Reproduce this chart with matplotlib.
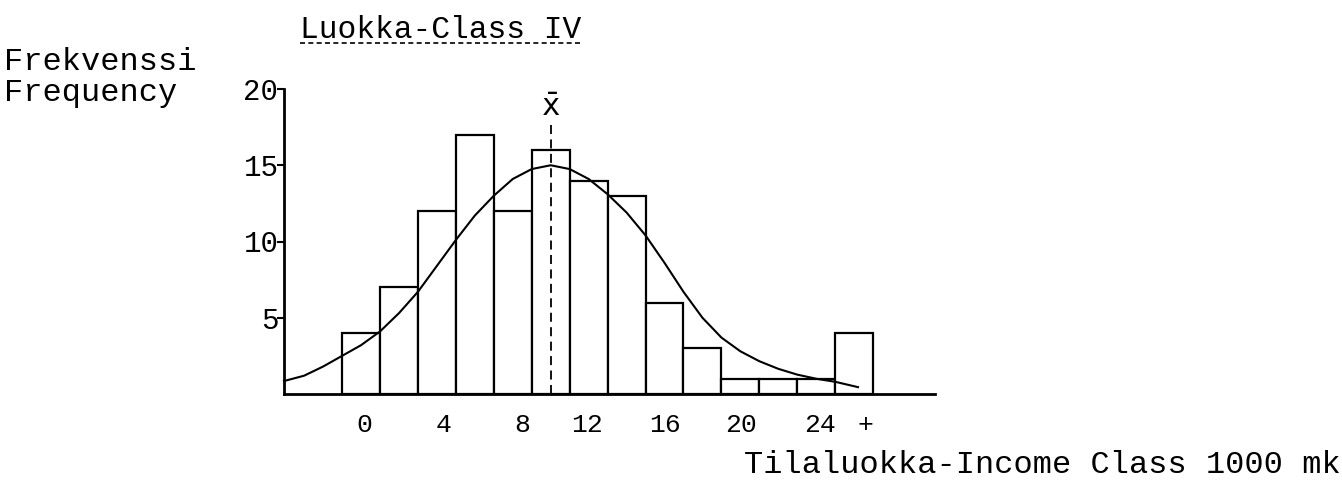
import matplotlib
matplotlib.use('Agg')
import matplotlib.pyplot as plt
import numpy as np

plt.rcParams['font.family'] = ['Liberation Mono', 'DejaVu Sans Mono']

# frequencies per income class (bars, left to right)
freq = [4, 7, 12, 17, 12, 16, 14, 13, 6, 3, 1, 1, 1, 4]

# fitted curve (x in class-width units from first bar)
curve_x = [-1.53, -1.0, -0.5, 0.0, 0.5, 1.0, 1.5, 2.0, 2.5, 3.0, 3.5, 4.0, 4.5, 5.0,
           5.5, 6.0, 6.5, 7.0, 7.5, 8.0, 8.5, 9.0, 9.5, 10.0, 10.5, 11.0, 11.5,
           12.0, 12.5, 13.0, 13.6]
curve_y = [0.85, 1.2, 1.8, 2.5, 3.2, 4.1, 5.3, 6.7, 8.4, 10.1, 11.7, 13.0, 14.1, 14.75,
           15.0, 14.75, 14.1, 13.1, 11.9, 10.4, 8.6, 6.7, 5.0, 3.7, 2.8, 2.15, 1.65,
           1.27, 1.0, 0.8, 0.45]

mean_x = 5.51
xtick_pos = [0.6, 2.67, 4.76, 6.45, 8.5, 10.52, 12.6, 13.8]
xtick_lab = ['0', '4', '8', '12', '16', '20', '24', '+']
ytick_pos = [5, 10, 15, 20]

W, H = 1342, 484
fig = plt.figure(figsize=(W / 100, H / 100), dpi=100)
ax = fig.add_axes([284 / W, (H - 394) / H, (935 - 284) / W, (394 - 89) / H])
ax.set_xlim(-1.53, 15.63)
ax.set_ylim(0, 20)

ax.bar(np.arange(len(freq)), freq, width=1, align='edge', facecolor='white',
       edgecolor='black', linewidth=1.6, clip_on=False)
ax.plot(curve_x, curve_y, color='black', linewidth=1.5, clip_on=False,
        solid_joinstyle='round')
ax.plot([mean_x, mean_x], [0, 18], color='black', linewidth=1.3,
        linestyle=(0, (5, 3)))
ax.text(mean_x, 18.75, r'$\bar{\mathtt{x}}$', ha='center', va='center', fontsize=22)

for s in ['top', 'right']:
    ax.spines[s].set_visible(False)
ax.spines['left'].set_bounds(0, 20)
ax.spines['left'].set_linewidth(2)
ax.spines['bottom'].set_linewidth(2)

ax.set_yticks(ytick_pos)
ax.set_yticklabels([str(v) for v in ytick_pos], fontsize=21)
ax.tick_params(axis='y', direction='out', length=5, width=1.5, pad=-1)
ax.set_xticks(xtick_pos)
ax.set_xticklabels(xtick_lab, fontsize=19)
ax.tick_params(axis='x', length=0, pad=14)

fig.text(300 / W, 1 - 38 / H, 'Luokka-Class IV', fontsize=22.5, va='baseline')
fig.add_artist(plt.Line2D([300 / W, 583 / W], [1 - 43 / H, 1 - 43 / H],
                          color='black', linewidth=1.2, linestyle=(0, (3, 2))))
fig.text(4 / W, 1 - 70 / H, 'Frekvenssi', fontsize=23, va='baseline')
fig.text(4 / W, 1 - 101 / H, 'Frequency', fontsize=23, va='baseline')
fig.text(1341 / W, 1 - 465 / H, 'Tilaluokka-Income Class 1000 mk', fontsize=23,
         ha='right', va='center')

fig.savefig('out.png', dpi=100, facecolor='white')
